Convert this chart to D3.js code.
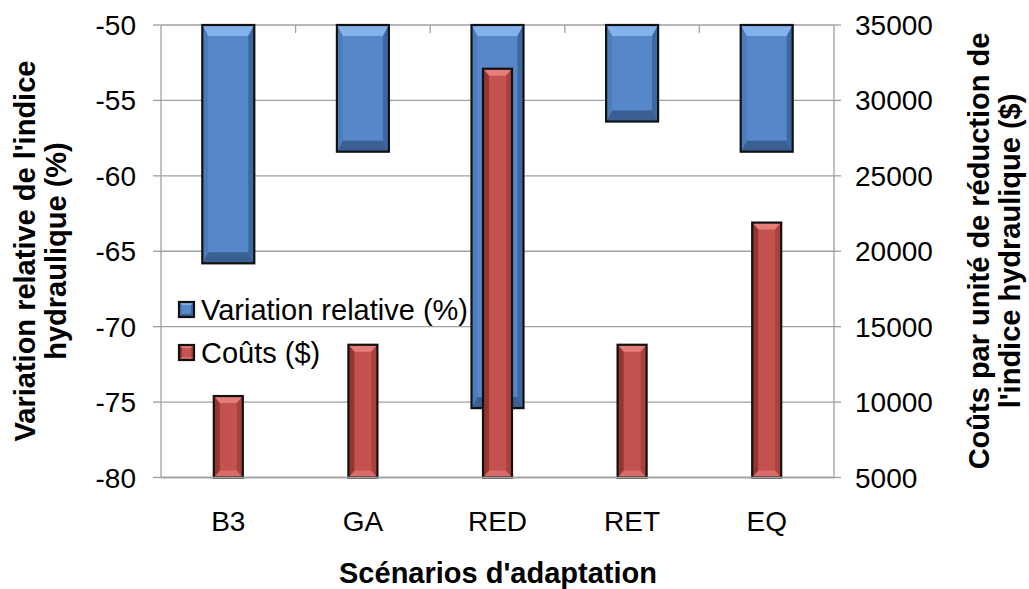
<!DOCTYPE html>
<html>
<head>
  <meta charset="utf-8">
  <title>Scénarios d'adaptation</title>
  <style>
    body { margin: 0; background: #fff; }
    text { font-family: "Liberation Sans", Arial, sans-serif; fill: #000; }
    .grid line { stroke: #a0a0a0; stroke-width: 1.3px; }
    .tick { font-size: 28px; }
    .leg { font-size: 29px; }
    .title { font-size: 29px; font-weight: bold; }
  </style>
  <script src="https://d3js.org/d3.v7.min.js"></script>
</head>
<body>
<svg width="1029" height="589"></svg>
<script>

var categories = ["B3", "GA", "RED", "RET", "EQ"];
var variation = [-65.8, -58.4, -75.4, -56.4, -58.4];   // Variation relative (%)
var couts = [10400, 13800, 32100, 13800, 21900];       // Coûts ($)
var leftTicks = [-50, -55, -60, -65, -70, -75, -80];
var rightTicks = [35000, 30000, 25000, 20000, 15000, 10000, 5000];

var svg = d3.select("svg");
var pL = 161, pR = 834, pT = 25, pB = 477.5;

var x = d3.scaleBand().domain(categories).range([pL, pR]);
var yL = d3.scaleLinear().domain([-80, -50]).range([pB, pT]);
var yR = d3.scaleLinear().domain([5000, 35000]).range([pB, pT]);

// grid
var grid = svg.append("g").attr("class", "grid");
grid.selectAll("line.h")
    .data(leftTicks)
    .enter().append("line")
    .attr("x1", pL).attr("x2", pR)
    .attr("y1", function(d) { return yL(d); })
    .attr("y2", function(d) { return yL(d); });
grid.append("line").attr("x1", pL).attr("x2", pL).attr("y1", pT).attr("y2", pB);
grid.append("line").attr("x1", pR).attr("x2", pR).attr("y1", pT).attr("y2", pB);

// category ticks hang from the top line
grid.selectAll("line.c")
    .data(categories.slice(1))
    .enter().append("line")
    .attr("x1", function(d) { return x(d); })
    .attr("x2", function(d) { return x(d); })
    .attr("y1", pT).attr("y2", pT + 8);

// left axis
grid.selectAll("line.l")
    .data(leftTicks)
    .enter().append("line")
    .attr("x1", pL - 8).attr("x2", pL)
    .attr("y1", function(d) { return yL(d); })
    .attr("y2", function(d) { return yL(d); });
svg.append("g").selectAll("text")
    .data(leftTicks)
    .enter().append("text")
    .attr("class", "tick")
    .attr("x", 136)
    .attr("y", function(d) { return yL(d); })
    .attr("dy", "0.36em")
    .attr("text-anchor", "end")
    .text(function(d) { return d; });

// right axis
grid.selectAll("line.r")
    .data(rightTicks)
    .enter().append("line")
    .attr("x1", pR).attr("x2", pR + 7)
    .attr("y1", function(d) { return yR(d); })
    .attr("y2", function(d) { return yR(d); });
svg.append("g").selectAll("text")
    .data(rightTicks)
    .enter().append("text")
    .attr("class", "tick")
    .attr("x", 855)
    .attr("y", function(d) { return yR(d); })
    .attr("dy", "0.36em")
    .text(function(d) { return d; });

// bevelled bar
function bevel(g, x0, x1, y0, y1, c, side, topB) {
  var bt = Math.min(topB, (y1 - y0) / 2), bs = side;
  g.append("rect").attr("x", x0).attr("y", y0)
      .attr("width", x1 - x0).attr("height", y1 - y0).attr("fill", c.main);
  var polys = [
    [[x0, y0], [x1, y0], [x1 - bs, y0 + bt], [x0 + bs, y0 + bt], c.top],
    [[x0, y1], [x1, y1], [x1 - bs, y1 - bt], [x0 + bs, y1 - bt], c.bottom],
    [[x0, y0], [x0 + bs, y0 + bt], [x0 + bs, y1 - bt], [x0, y1], c.left],
    [[x1, y0], [x1 - bs, y0 + bt], [x1 - bs, y1 - bt], [x1, y1], c.right]
  ];
  polys.forEach(function(p) {
    g.append("polygon")
        .attr("points", p.slice(0, 4).map(function(q) { return q.join(","); }).join(" "))
        .attr("fill", p[4]);
  });
  g.append("rect").attr("x", x0).attr("y", y0)
      .attr("width", x1 - x0).attr("height", y1 - y0)
      .attr("fill", "none").attr("stroke", "#111").attr("stroke-width", 2.2);
}

var blue = { main: "#5687c8", top: "#84b2eb", bottom: "#3a5f92", left: "#4c7cbc", right: "#3d679f" };
var red = { main: "#c4524f", top: "#e57e7b", bottom: "#d96b68", left: "#943530", right: "#a9413e" };

var bw = 52, rw = 29;
var bars = svg.append("g");
categories.forEach(function(c, i) {
  var cx = x(c) + x.bandwidth() / 2;
  bevel(bars, cx - bw / 2, cx + bw / 2, yL(-50), yL(variation[i]), blue, 6, 11);
});
categories.forEach(function(c, i) {
  var cx = x(c) + x.bandwidth() / 2;
  bevel(bars, cx - rw / 2, cx + rw / 2, yR(couts[i]), yR(5000), red, 6, 7);
});

// bottom line on top of bars
svg.append("line").attr("x1", pL).attr("x2", pR)
    .attr("y1", pB).attr("y2", pB)
    .attr("stroke", "#a0a0a0").attr("stroke-width", 1.3);

// category labels
svg.append("g").selectAll("text")
    .data(categories)
    .enter().append("text")
    .attr("class", "tick")
    .attr("x", function(d) { return x(d) + x.bandwidth() / 2; })
    .attr("y", 531)
    .attr("text-anchor", "middle")
    .text(function(d) { return d; });

// axis titles
svg.append("text").attr("class", "title")
    .attr("x", 498).attr("y", 583).attr("text-anchor", "middle")
    .text("Scénarios d'adaptation");

var lt = svg.append("text").attr("class", "title")
    .attr("transform", "translate(35,251) rotate(-90)")
    .attr("text-anchor", "middle");
lt.append("tspan").attr("x", 0).attr("y", 0).text("Variation relative de l'indice");
lt.append("tspan").attr("x", 0).attr("y", 31).text("hydraulique (%)");

var rt = svg.append("text").attr("class", "title")
    .attr("transform", "translate(989,251) rotate(-90)")
    .attr("text-anchor", "middle");
rt.append("tspan").attr("x", 0).attr("y", 0).text("Coûts par unité de réduction de");
rt.append("tspan").attr("x", 0).attr("y", 31).text("l'indice hydraulique ($)");

// legend
var legend = [["Variation relative (%)", blue, 320], ["Coûts ($)", red, 363]];
var lg = svg.append("g");
legend.forEach(function(l) {
  bevel(lg, 179, 194, l[2] - 18, l[2] - 3, l[1], 3, 3);
  lg.append("text").attr("class", "leg")
      .attr("x", 201).attr("y", l[2]).text(l[0]);
});

</script>
</body>
</html>
